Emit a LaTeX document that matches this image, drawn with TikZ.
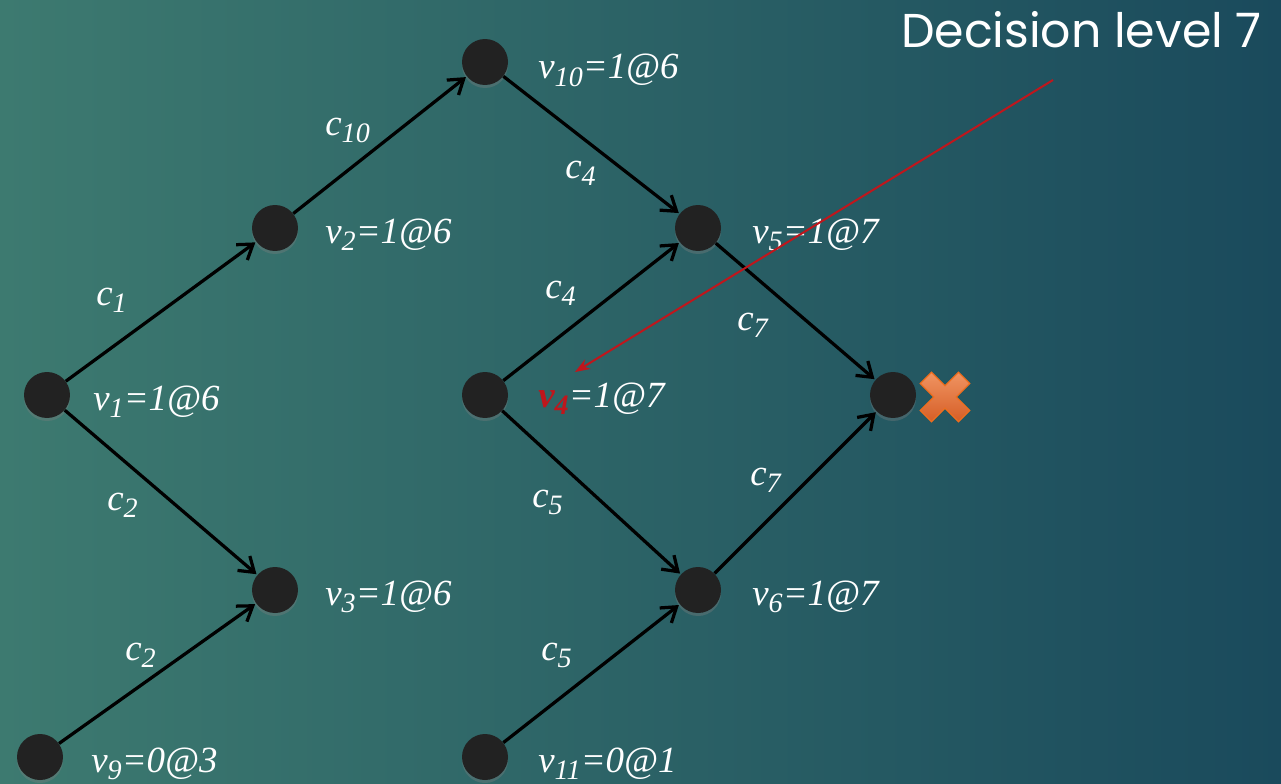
\documentclass[tikz,border=0pt]{standalone}
\usepackage{fontspec}
\setmainfont{Liberation Serif}
\newfontfamily\headfont{Poppins}
\usepackage{tikz}
\usetikzlibrary{arrows.meta, positioning, shadows}
\definecolor{bgleft}{HTML}{3D7A70}
\definecolor{bgmid}{HTML}{326F6A}
\definecolor{bgright}{HTML}{1A4A5C}
\definecolor{ballfill}{HTML}{222222}
\definecolor{hintred}{HTML}{C0161C}
\definecolor{crosstop}{HTML}{F09462}
\definecolor{crossbot}{HTML}{D65E26}
\definecolor{crossedge}{HTML}{EE6E1E}
\newcommand\lowsub[1]{\raisebox{-0.45ex}{\fontsize{16}{16}\selectfont #1}}
\tikzset{
  vert/.style={circle, fill=ballfill, minimum size=0.92cm, inner sep=0pt,
    drop shadow={shadow xshift=0pt, shadow yshift=-0.06cm, opacity=0.35}},
  vlabel/.style={anchor=base west, inner sep=0pt, text=white,
    font=\fontsize{21}{21}\selectfont\itshape},
  clabel/.style={anchor=base west, inner sep=0pt, text=white,
    font=\fontsize{21}{21}\selectfont\itshape},
  implies/.style={draw=black, line width=0.065cm,
    -{Straight Barb[length=0.28cm, width=0.38cm, line width=0.065cm]}, shorten >=0.02cm},
}
\begin{document}
\begin{tikzpicture}[x=0.02cm, y=-0.02cm]
    % Background
    \useasboundingbox (0,0) rectangle (1281,784);
    \shade[left color=bgleft, middle color=bgmid, right color=bgright] (0,0) rectangle (1281,784);
    % Vertices
    \node[vert] (v1) at (47,395) {};
    \node[vert] (v2) at (275,228) {};
    \node[vert] (v3) at (275,590) {};
    \node[vert] (v9) at (40,757) {};
    \node[vert] (v10) at (485,62) {};
    \node[vert] (v4) at (485,395) {};
    \node[vert] (v5) at (698,228) {};
    \node[vert] (v6) at (698,590) {};
    \node[vert] (v11) at (485,757) {};
    \node[vert] (k) at (893,395) {};
    % Assignments
    \node[vlabel] (l1) at (93,410) {v\lowsub{1}=1@6};
    \node[vlabel] (l2) at (325,243) {v\lowsub{2}=1@6};
    \node[vlabel] (l3) at (325,605) {v\lowsub{3}=1@6};
    \node[vlabel] (l9) at (91,772) {v\lowsub{9}=0@3};
    \node[vlabel] (l10) at (538,79) {v\lowsub{10}=1@6};
    \node[vlabel] (l4) at (538,407) {\textcolor{hintred}{\bfseries v\lowsub{4}}=1@7};
    \node[vlabel] (l5) at (752,243) {v\lowsub{5}=1@7};
    \node[vlabel] (l6) at (752,605) {v\lowsub{6}=1@7};
    \node[vlabel] (l11) at (538,772) {v\lowsub{11}=0@1};
    % Implications
    \draw[implies] (v1) -- (v2);
    \draw[implies] (v1) -- (v3);
    \draw[implies] (v9) -- (v3);
    \draw[implies] (v2) -- (v10);
    \draw[implies] (v10) -- (v5);
    \draw[implies] (v4) -- (v5);
    \draw[implies] (v4) -- (v6);
    \draw[implies] (v11) -- (v6);
    \draw[implies] (v5) -- (k);
    \draw[implies] (v6) -- (k);
    % Clauses
    \node[clabel] (c1) at (96,305) {c\lowsub{1}};
    \node[clabel] (c2a) at (107,510) {c\lowsub{2}};
    \node[clabel] (c2b) at (125,660) {c\lowsub{2}};
    \node[clabel] (c10) at (325,135) {c\lowsub{10}};
    \node[clabel] (c4a) at (565,178) {c\lowsub{4}};
    \node[clabel] (c4b) at (545,298) {c\lowsub{4}};
    \node[clabel] (c7a) at (737,330) {c\lowsub{7}};
    \node[clabel] (c5a) at (532,507) {c\lowsub{5}};
    \node[clabel] (c5b) at (541,660) {c\lowsub{5}};
    \node[clabel] (c7b) at (750,485) {c\lowsub{7}};
    % Conflict cross
    \begin{scope}[shift={(945,397)}, rotate=45]
      \shade[top color=crosstop, bottom color=crossbot, draw=crossedge, line width=0.7pt]
        (-8,-27) -- (8,-27) -- (8,-8) -- (27,-8) -- (27,8) -- (8,8) -- (8,27)
        -- (-8,27) -- (-8,8) -- (-27,8) -- (-27,-8) -- (-8,-8) -- cycle;
    \end{scope}
    % Decision level
    \node[anchor=base east, inner sep=0pt, text=white, font=\headfont\fontsize{27}{27}\selectfont]
      (title) at (1262,48) {Decision level 7};
    \coordinate (hintstart) at (1053,80);
    \coordinate (hintend) at (575,372);
    \draw[hintred, line width=0.04cm, -{Stealth[length=0.3cm, width=0.22cm]}] (hintstart) -- (hintend);
\end{tikzpicture}
\end{document}
